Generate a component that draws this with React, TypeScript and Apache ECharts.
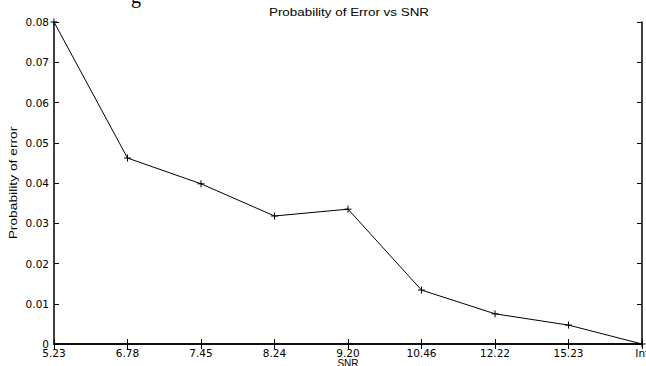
import React, { useEffect, useRef } from "react";
import * as echarts from "echarts";

const snrLabels = ["5.23", "6.78", "7.45", "8.24", "9.20", "10.46", "12.22", "15.23", "Inf"];
const errorValues = [0.08, 0.0462, 0.0398, 0.0318, 0.0335, 0.0134, 0.0075, 0.0047, 0];
const yTicks = { min: 0, max: 0.08, interval: 0.01 };
const titleText = "Probability of Error vs SNR";
const yName = "Probability of error";
const xName = "SNR";

export default function App() {
  const ref = useRef<HTMLDivElement>(null);
  useEffect(() => {
    if (!ref.current) return;
    const chart = echarts.init(ref.current, null, { renderer: "svg" });
    const font = "'Liberation Sans', Arial, Helvetica, sans-serif";
    const tickFont = "'DejaVu Sans', sans-serif";
    chart.setOption({
      animation: false,
      backgroundColor: "#ffffff",
      textStyle: { fontFamily: font },
      graphic: [
        {
          type: "text",
          x: 131,
          y: -14,
          style: { text: "g", font: "20px 'Liberation Serif', 'DejaVu Serif', serif", fill: "#000" },
        },
        {
          type: "text",
          x: 349,
          y: 12,
          scaleX: 1.22,
          style: {
            text: titleText,
            font: "11px 'Liberation Sans', Arial, sans-serif",
            fill: "#000",
            align: "center",
            verticalAlign: "middle",
          },
        },
        {
          type: "text",
          x: 14,
          y: 183,
          rotation: Math.PI / 2,
          scaleX: 1.38,
          style: {
            text: yName,
            font: "10px 'Liberation Sans', Arial, sans-serif",
            fill: "#000",
            align: "center",
            verticalAlign: "middle",
          },
        },
      ],
      grid: { left: 54, right: 4, top: 22, bottom: 22, containLabel: false, outerBoundsMode: "none" },
      xAxis: [
        {
          type: "category",
          data: snrLabels,
          boundaryGap: false,
          position: "bottom",
          name: xName,
          nameLocation: "middle",
          nameGap: 14,
          nameMoveOverlap: false,
          nameTextStyle: { fontSize: 10, color: "#000", fontFamily: font },
          axisLine: { lineStyle: { color: "#000", width: 1.5 } },
          axisTick: { inside: true, length: 5, lineStyle: { color: "#000" } },
          axisLabel: { fontSize: 10.5, color: "#000", margin: 3, fontFamily: tickFont },
          splitLine: { show: false },
        },
        {
          type: "category",
          data: snrLabels,
          boundaryGap: false,
          position: "top",
          axisLine: { lineStyle: { color: "#000", width: 1.5 } },
          axisTick: { inside: true, length: 5, lineStyle: { color: "#000" } },
          axisLabel: { show: false },
          splitLine: { show: false },
        },
      ],
      yAxis: [
        {
          type: "value",
          min: yTicks.min,
          max: yTicks.max,
          interval: yTicks.interval,
          position: "left",
          axisLine: { show: true, lineStyle: { color: "#000", width: 1.5 } },
          axisTick: { show: true, inside: true, length: 5, lineStyle: { color: "#000" } },
          axisLabel: {
            fontSize: 10.5,
            color: "#000",
            margin: 5,
            fontFamily: tickFont,
            formatter: (v: number) => (v === 0 ? "0" : v.toFixed(2)),
          },
          splitLine: { show: false },
        },
        {
          type: "value",
          min: yTicks.min,
          max: yTicks.max,
          interval: yTicks.interval,
          position: "right",
          axisLine: { show: true, lineStyle: { color: "#000", width: 1.5 } },
          axisTick: { show: true, inside: true, length: 5, lineStyle: { color: "#000" } },
          axisLabel: { show: false },
          splitLine: { show: false },
        },
      ],
      series: [
        {
          type: "line",
          data: errorValues,
          xAxisIndex: 0,
          yAxisIndex: 0,
          lineStyle: { color: "#000", width: 1 },
          symbol: "path://M0,5L10,5M5,0L5,10",
          symbolSize: 7,
          showAllSymbol: true,
          itemStyle: { color: "none", borderColor: "#000", borderWidth: 1 },
          clip: false,
        },
      ],
    });
    return () => chart.dispose();
  }, []);
  return (
    <div
      ref={ref}
      style={{ position: "fixed", left: 0, top: 0, width: 646, height: 366, background: "#fff" }}
    />
  );
}
